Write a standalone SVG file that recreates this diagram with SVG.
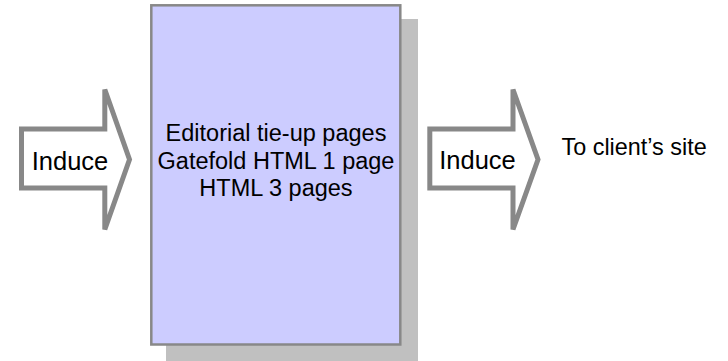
<svg xmlns="http://www.w3.org/2000/svg" width="728" height="361" viewBox="0 0 728 361">
<style>
text { font-family: "Liberation Sans", Arial, sans-serif; fill: #000; }
.arrow { fill: #fff; stroke: #888; stroke-width: 5; stroke-linejoin: miter; }
.lbl { font-size: 25.5px; text-anchor: middle; }
.box { fill: #ccccff; stroke: #888; stroke-width: 2.5; }
.shadow { fill: #c0c0c0; }
.bt { font-size: 23.5px; text-anchor: middle; }
</style>
<rect width="728" height="361" fill="#fff"/>
<g id="connectors">
  <g id="arrow-left">
    <polygon class="arrow" points="21.5,129 104.8,129 104.8,89.5 129.5,159.5 104.8,229.5 104.8,188 21.5,188"/>
    <text class="lbl" x="70" y="170">Induce</text>
  </g>
  <g id="arrow-right">
    <polygon class="arrow" points="429.8,129 513,129 513,89.5 538,159.5 513,229.5 513,188 429.8,188"/>
    <text class="lbl" x="477.5" y="168.5">Induce</text>
  </g>
</g>
<g id="node-pages">
  <rect class="shadow" x="166" y="19" width="252" height="342"/>
  <rect class="box" x="151.3" y="5.3" width="249" height="339.2"/>
  <text class="bt" x="276" y="141">Editorial tie-up pages</text>
  <text class="bt" x="276" y="168.5">Gatefold HTML 1 page</text>
  <text class="bt" x="276" y="196">HTML 3 pages</text>
</g>
<g id="node-client">
  <text x="561.5" y="155" font-size="23.4">To client’s site</text>
</g>
</svg>
